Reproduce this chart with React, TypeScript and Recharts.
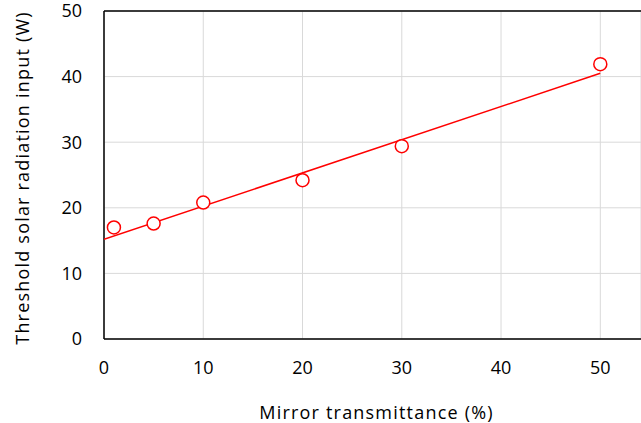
import {
  ComposedChart,
  Scatter,
  XAxis,
  YAxis,
  CartesianGrid,
  ReferenceLine,
} from "recharts";

// ---------------------------------------------------------------------------
// Data
// ---------------------------------------------------------------------------

const TRANSMITTANCE = [1, 5, 10, 20, 30, 50];
const THRESHOLD_W = [17.0, 17.6, 20.8, 24.2, 29.4, 41.9];

// linear trend line end points
const TREND_X = [0, 50];
const TREND_Y = [15.2, 40.5];

const X_TICKS = [0, 10, 20, 30, 40, 50];
const Y_TICKS = [0, 10, 20, 30, 40, 50];

const RED = "#ff0000";
const FONT = "'Open Sans', sans-serif";

const points = TRANSMITTANCE.map((x, i) => ({ x, y: THRESHOLD_W[i] }));
const trend = TREND_X.map((x, i) => ({ x, y: TREND_Y[i] }));

function OpenCircle(props: { cx?: number; cy?: number }) {
  const { cx, cy } = props;
  if (cx == null || cy == null) return null;
  return (
    <circle cx={cx} cy={cy} r={6.5} fill="#fff" stroke={RED} strokeWidth={1.5} />
  );
}

const tickStyle = { fontSize: 18, fill: "#000", fontFamily: FONT };
const titleStyle = {
  fontSize: 18,
  fill: "#000",
  fontFamily: FONT,
  letterSpacing: 1.2,
};

export default function App() {
  return (
    <div style={{ position: "absolute", left: 0, top: 0 }}>
      <ComposedChart
        width={641}
        height={423}
        margin={{ top: 11, right: 0, bottom: 0, left: 0 }}
        style={{ fontFamily: FONT }}
      >
        <CartesianGrid stroke="#d9d9d9" strokeWidth={1} />
        <XAxis
          type="number"
          dataKey="x"
          domain={[0, 54.1]}
          ticks={X_TICKS}
          allowDataOverflow
          height={84}
          tickLine={false}
          tickSize={0}
          tickMargin={22}
          axisLine={{ stroke: "#000", strokeWidth: 1.5 }}
          tick={tickStyle}
          label={{
            value: "Mirror transmittance (%)",
            position: "insideBottom",
            offset: 4,
            dx: 4,
            style: titleStyle,
          }}
        />
        <YAxis
          type="number"
          dataKey="y"
          domain={[0, 50]}
          ticks={Y_TICKS}
          width={104}
          tickLine={false}
          tickSize={0}
          tickMargin={22}
          axisLine={{ stroke: "#000", strokeWidth: 1.5 }}
          tick={tickStyle}
          label={{
            value: "Threshold solar radiation input (W)",
            angle: -90,
            position: "center",
            dx: -29,
            dy: 3,
            style: { ...titleStyle, textAnchor: "middle" },
          }}
        />
        <ReferenceLine y={50} stroke="#000" strokeWidth={1.5} />
        <Scatter
          data={trend}
          line={{ stroke: RED, strokeWidth: 1.5 }}
          shape={() => null}
          isAnimationActive={false}
        />
        <Scatter data={points} shape={<OpenCircle />} isAnimationActive={false} />
      </ComposedChart>
    </div>
  );
}
